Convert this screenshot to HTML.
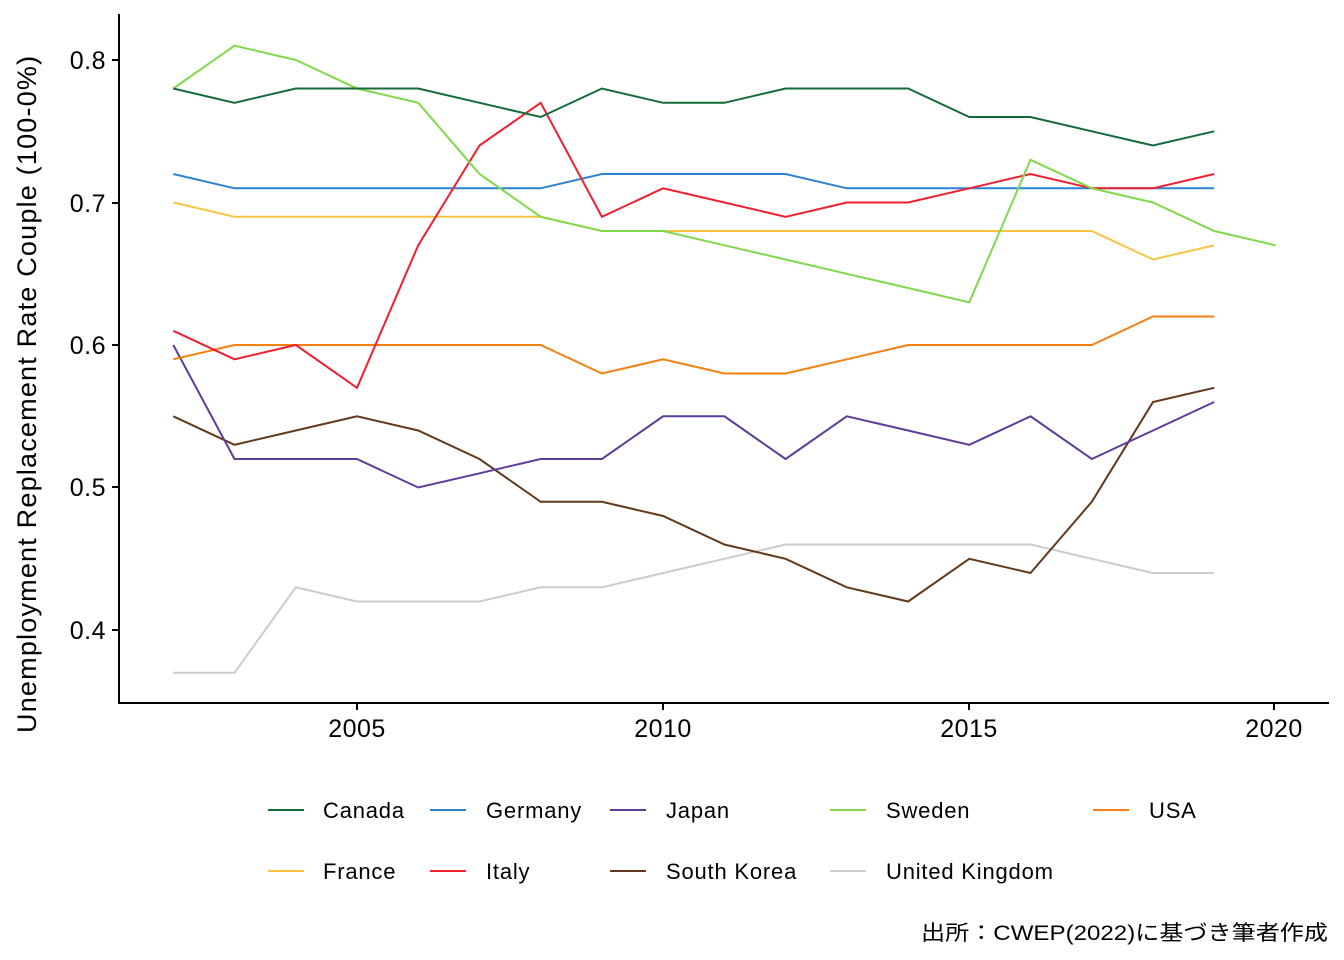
<!DOCTYPE html>
<html><head><meta charset="utf-8"><style>body{margin:0;background:#fff}svg{display:block}text{font-family:"Liberation Sans","Noto Sans CJK JP",sans-serif;fill:#000}</style></head>
<body>
<svg id="s" width="1344" height="960" xmlns="http://www.w3.org/2000/svg">
<line x1="119" y1="14" x2="119" y2="704" stroke="#000" stroke-width="2"/>
<line x1="118" y1="703" x2="1329" y2="703" stroke="#000" stroke-width="2"/>
<g font-size="25" text-anchor="end" letter-spacing="0.5">
<text x="106" y="69">0.8</text><text x="106" y="212">0.7</text><text x="106" y="354">0.6</text><text x="106" y="496">0.5</text><text x="106" y="639">0.4</text></g>
<g stroke="#000" stroke-width="2"><line x1="112" y1="60" x2="119" y2="60"/><line x1="112" y1="203" x2="119" y2="203"/><line x1="112" y1="345" x2="119" y2="345"/><line x1="112" y1="487" x2="119" y2="487"/><line x1="112" y1="630" x2="119" y2="630"/>
<line x1="357" y1="703" x2="357" y2="710"/><line x1="663" y1="703" x2="663" y2="710"/><line x1="969" y1="703" x2="969" y2="710"/><line x1="1274" y1="703" x2="1274" y2="710"/></g>
<g font-size="25" text-anchor="middle" letter-spacing="0.5"><text x="357" y="737">2005</text><text x="663" y="737">2010</text><text x="969" y="737">2015</text><text x="1274" y="737">2020</text></g>
<text transform="translate(36,733) rotate(-90)" font-size="27" letter-spacing="1.2">Unemployment Replacement Rate Couple (100-0%)</text>
<g id="lines" fill="none" stroke-width="2"></g>
<g font-size="22" letter-spacing="0.8">
<line x1="268" y1="810" x2="304" y2="810" stroke="#146B3A" stroke-width="2"/><text x="323" y="818">Canada</text>
<line x1="430" y1="810" x2="466" y2="810" stroke="#2C83D1" stroke-width="2"/><text x="486" y="818">Germany</text>
<line x1="610" y1="810" x2="646" y2="810" stroke="#5E3C99" stroke-width="2"/><text x="666" y="818">Japan</text>
<line x1="830" y1="810" x2="866" y2="810" stroke="#7FD94A" stroke-width="2"/><text x="886" y="818">Sweden</text>
<line x1="1093" y1="810" x2="1129" y2="810" stroke="#F57F0F" stroke-width="2"/><text x="1149" y="818">USA</text>
<line x1="268" y1="871" x2="304" y2="871" stroke="#F9C440" stroke-width="2"/><text x="323" y="879">France</text>
<line x1="430" y1="871" x2="466" y2="871" stroke="#F0202F" stroke-width="2"/><text x="486" y="879">Italy</text>
<line x1="610" y1="871" x2="646" y2="871" stroke="#64381B" stroke-width="2"/><text x="666" y="879">South Korea</text>
<line x1="830" y1="871" x2="866" y2="871" stroke="#CCCCCC" stroke-width="2"/><text x="886" y="879">United Kingdom</text>
</g>
<text x="921" y="940" font-size="21" textLength="407" lengthAdjust="spacingAndGlyphs">出所：CWEP(2022)に基づき筆者作成</text>
</svg>
<script>
var S=[
["#CCCCCC",[.37,.37,.43,.42,.42,.42,.43,.43,.44,.45,.46,.46,.46,.46,.46,.45,.44,.44]],
["#64381B",[.55,.53,.54,.55,.54,.52,.49,.49,.48,.46,.45,.43,.42,.45,.44,.49,.56,.57]],
["#5E3C99",[.60,.52,.52,.52,.50,.51,.52,.52,.55,.55,.52,.55,.54,.53,.55,.52,.54,.56]],
["#F57F0F",[.59,.60,.60,.60,.60,.60,.60,.58,.59,.58,.58,.59,.60,.60,.60,.60,.62,.62]],
["#F9C440",[.70,.69,.69,.69,.69,.69,.69,.68,.68,.68,.68,.68,.68,.68,.68,.68,.66,.67]],
["#2C83D1",[.72,.71,.71,.71,.71,.71,.71,.72,.72,.72,.72,.71,.71,.71,.71,.71,.71,.71]],
["#F0202F",[.61,.59,.60,.57,.67,.74,.77,.69,.71,.70,.69,.70,.70,.71,.72,.71,.71,.72]],
["#7FD94A",[.78,.81,.80,.78,.77,.72,.69,.68,.68,.67,.66,.65,.64,.63,.73,.71,.70,.68,.67]],
["#146B3A",[.78,.77,.78,.78,.78,.77,.76,.78,.77,.77,.78,.78,.78,.76,.76,.75,.74,.75]]];
var g=document.getElementById("lines"),h="";
S.forEach(function(s){var p=s[1].map(function(v,i){return (357+(2002+i-2005)*61.23).toFixed(1)+","+(60+(0.8-v)*1425).toFixed(1)}).join(" ");
h+='<polyline stroke="'+s[0]+'" points="'+p+'"/>';});
g.innerHTML=h;
</script>
</body></html>
